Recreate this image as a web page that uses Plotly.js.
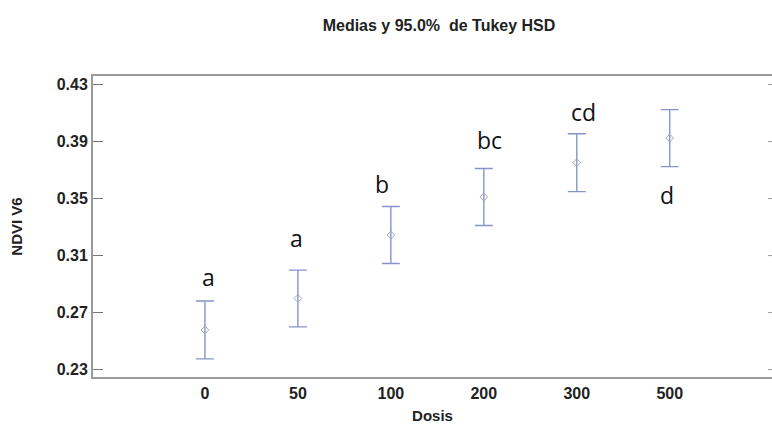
<!DOCTYPE html>
<html>
<head>
<meta charset="utf-8">
<script src="https://cdn.plot.ly/plotly-3.0.1.min.js"></script>
<style>
  html, body { margin: 0; padding: 0; background: #fff; overflow: hidden; }
  #chart { width: 772px; height: 424px; }
</style>
</head>
<body>
<div id="chart"></div>
<script>
// Dose levels and NDVI V6 means with Tukey HSD 95% half-intervals
const dosis = ["0", "50", "100", "200", "300", "500"];
const medias = [0.2578, 0.2799, 0.3244, 0.3511, 0.3752, 0.3924];
const intervalo = [0.0203, 0.0199, 0.0200, 0.0200, 0.0203, 0.0200];

// Homogeneous-group letters and the height at which each is written
const grupos = ["a", "a", "b", "bc", "cd", "d"];
const grupoY = [0.2950, 0.3222, 0.3605, 0.3910, 0.4110, 0.3528];

const yTicks = [0.23, 0.27, 0.31, 0.35, 0.39, 0.43];

// small horizontal nudges (px) for the group letters
const letterNudge = [4, -1, -9, 6, 7, -3];

const trace = {
  type: "scatter",
  mode: "markers",
  x: dosis.map((d, i) => i),
  y: medias,
  marker: { symbol: "diamond-open", size: 6, color: "#a4a6b2", line: { width: 1, color: "#a4a6b2" } },
  error_y: {
    type: "data",
    array: intervalo,
    visible: true,
    color: "#8893ca",
    thickness: 1.4,
    width: 9
  },
  hoverinfo: "y"
};

const annotations = grupos.map((g, i) => ({
  x: i,
  y: grupoY[i],
  xref: "x",
  yref: "y",
  text: g,
  showarrow: false,
  xshift: letterNudge[i],
  xanchor: "center",
  yanchor: "middle",
  font: { family: "Open Sans, Noto Sans, sans-serif", size: 23, color: "#111" }
}));

const boldFont = "Liberation Sans, Arial, sans-serif";
const tickFont = { family: boldFont, size: 16, color: "#222", weight: "bold" };

// short tick dashes along the right-hand edge of the frame
const rightTicks = yTicks.map(v => ({
  type: "line",
  xref: "paper",
  yref: "y",
  xsizemode: "pixel",
  xanchor: 1,
  x0: -4,
  x1: 0,
  y0: v,
  y1: v,
  line: { color: "#9a9a9a", width: 1 }
}));

const layout = {
  width: 772,
  height: 424,
  margin: { l: 93, r: 0, t: 76, b: 47 },
  paper_bgcolor: "#ffffff",
  plot_bgcolor: "#ffffff",
  showlegend: false,
  title: {
    text: "<b>Medias y 95.0%  de Tukey HSD</b>",
    font: { family: boldFont, size: 16, color: "#222" },
    x: 439 / 772,
    xref: "container",
    xanchor: "center",
    y: 1 - 25 / 424,
    yref: "container",
    yanchor: "middle"
  },
  xaxis: {
    type: "linear",
    range: [-1.204, 6.10],
    tickvals: dosis.map((d, i) => i),
    ticktext: dosis,
    showgrid: false,
    zeroline: false,
    showline: true,
    linecolor: "#9a9a9a",
    linewidth: 2,
    mirror: true,
    ticks: "",
    tickfont: tickFont,
    ticklabelstandoff: 1,
    title: {
      text: "<b>Dosis</b>",
      font: { family: boldFont, size: 15, color: "#222" },
      standoff: 9
    },
    automargin: false
  },
  yaxis: {
    range: [0.2248, 0.4360],
    tickvals: yTicks,
    ticktext: yTicks.map(v => v.toFixed(2)),
    showgrid: false,
    zeroline: false,
    showline: true,
    linecolor: "#9a9a9a",
    linewidth: 2,
    mirror: false,
    ticks: "inside",
    ticklen: 10,
    tickwidth: 1,
    tickcolor: "#777",
    tickfont: tickFont,
    title: {
      text: "<b>NDVI V6</b>",
      font: { family: boldFont, size: 15, color: "#222" },
      standoff: 30
    },
    automargin: false
  },
  shapes: rightTicks,
  annotations: annotations
};

Plotly.newPlot("chart", [trace], layout, { displayModeBar: false, staticPlot: true });
</script>
</body>
</html>
